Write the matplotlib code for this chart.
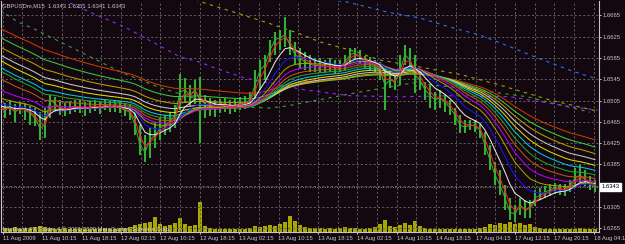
import numpy as np
import matplotlib
matplotlib.use('Agg')
import matplotlib.pyplot as plt
import matplotlib.transforms as mtransforms

# 图表文字
title_text = 'GBPUSDm,M15  1.6343 1.6351 1.6341 1.6343'
copyright_text = 'Interbank FX Trader 4 \u00a9 2001-2009 MetaQuotes Software Corp.'
last_price = 1.6343

# 每个点约4根M15柱 (读图所得)
close = [1.6491, 1.6487, 1.6493, 1.6483, 1.6491, 1.6487, 1.6482, 1.6472, 1.6453, 1.6459,
         1.6506, 1.6499, 1.6491, 1.6487, 1.6491, 1.6495, 1.6493, 1.6489, 1.6493, 1.6495,
         1.6491, 1.6497, 1.6493, 1.6495, 1.6491, 1.6487, 1.6483, 1.6459, 1.6421, 1.6408,
         1.6431, 1.6440, 1.6453, 1.6459, 1.6465, 1.6478, 1.6521, 1.6525, 1.6515, 1.6525,
         1.6506, 1.6499, 1.6495, 1.6491, 1.6495, 1.6497, 1.6493, 1.6495, 1.6499, 1.6500,
         1.6506, 1.6534, 1.6562, 1.6572, 1.6600, 1.6619, 1.6623, 1.6628, 1.6609, 1.6591,
         1.6585, 1.6577, 1.6574, 1.6570, 1.6572, 1.6568, 1.6570, 1.6566, 1.6568, 1.6577,
         1.6591, 1.6594, 1.6587, 1.6577, 1.6574, 1.6570, 1.6562, 1.6534, 1.6544, 1.6540,
         1.6562, 1.6591, 1.6581, 1.6553, 1.6544, 1.6525, 1.6515, 1.6506, 1.6510, 1.6502,
         1.6491, 1.6478, 1.6459, 1.6455, 1.6459, 1.6457, 1.6450, 1.6421, 1.6393, 1.6365,
         1.6346, 1.6322, 1.6295, 1.6292, 1.6309, 1.6299, 1.6303, 1.6322, 1.6327, 1.6333,
         1.6337, 1.6341, 1.6339, 1.6337, 1.6346, 1.6359, 1.6365, 1.6356, 1.6348, 1.6343]
high = [1.6506, 1.6500, 1.6506, 1.6499, 1.6502, 1.6500, 1.6495, 1.6491, 1.6483, 1.6491,
        1.6515, 1.6512, 1.6506, 1.6500, 1.6504, 1.6506, 1.6506, 1.6502, 1.6504, 1.6506,
        1.6502, 1.6506, 1.6504, 1.6506, 1.6504, 1.6500, 1.6497, 1.6487, 1.6459, 1.6440,
        1.6453, 1.6465, 1.6472, 1.6478, 1.6483, 1.6497, 1.6555, 1.6547, 1.6534, 1.6544,
        1.6549, 1.6515, 1.6510, 1.6506, 1.6508, 1.6510, 1.6506, 1.6508, 1.6512, 1.6514,
        1.6521, 1.6562, 1.6581, 1.6591, 1.6619, 1.6634, 1.6638, 1.6662, 1.6638, 1.6615,
        1.6604, 1.6596, 1.6591, 1.6585, 1.6585, 1.6581, 1.6585, 1.6581, 1.6581, 1.6591,
        1.6604, 1.6604, 1.6600, 1.6589, 1.6587, 1.6581, 1.6577, 1.6566, 1.6559, 1.6555,
        1.6591, 1.6609, 1.6604, 1.6591, 1.6562, 1.6540, 1.6534, 1.6521, 1.6525, 1.6515,
        1.6506, 1.6491, 1.6478, 1.6468, 1.6468, 1.6468, 1.6461, 1.6446, 1.6421, 1.6389,
        1.6374, 1.6346, 1.6322, 1.6309, 1.6322, 1.6318, 1.6318, 1.6337, 1.6341, 1.6344,
        1.6348, 1.6350, 1.6348, 1.6348, 1.6356, 1.6378, 1.6384, 1.6374, 1.6363, 1.6356]
low = [1.6453, 1.6472, 1.6478, 1.6465, 1.6480, 1.6468, 1.6459, 1.6457, 1.6431, 1.6435,
       1.6472, 1.6483, 1.6478, 1.6476, 1.6480, 1.6483, 1.6482, 1.6476, 1.6482, 1.6485,
       1.6480, 1.6487, 1.6483, 1.6483, 1.6482, 1.6476, 1.6468, 1.6440, 1.6403, 1.6389,
       1.6397, 1.6416, 1.6431, 1.6440, 1.6446, 1.6453, 1.6487, 1.6502, 1.6495, 1.6499,
       1.6425, 1.6472, 1.6476, 1.6474, 1.6482, 1.6483, 1.6480, 1.6483, 1.6487, 1.6489,
       1.6493, 1.6510, 1.6525, 1.6544, 1.6577, 1.6591, 1.6600, 1.6606, 1.6591, 1.6572,
       1.6566, 1.6562, 1.6559, 1.6559, 1.6559, 1.6557, 1.6559, 1.6555, 1.6559, 1.6562,
       1.6576, 1.6581, 1.6574, 1.6566, 1.6562, 1.6559, 1.6544, 1.6487, 1.6529, 1.6525,
       1.6534, 1.6572, 1.6562, 1.6519, 1.6525, 1.6506, 1.6491, 1.6487, 1.6491, 1.6483,
       1.6478, 1.6459, 1.6444, 1.6444, 1.6450, 1.6446, 1.6435, 1.6403, 1.6374, 1.6346,
       1.6327, 1.6299, 1.6280, 1.6277, 1.6290, 1.6284, 1.6284, 1.6307, 1.6318, 1.6322,
       1.6326, 1.6329, 1.6327, 1.6326, 1.6333, 1.6346, 1.6352, 1.6344, 1.6337, 1.6333]
volume = [30, 40, 30, 50, 30, 40, 40, 50, 60, 50,
          40, 30, 30, 40, 30, 30, 40, 30, 30, 30,
          30, 40, 30, 30, 40, 40, 50, 70, 80, 90,
          100, 150, 80, 60, 70, 90, 140, 80, 60, 70,
          300, 60, 40, 30, 30, 30, 30, 30, 30, 30,
          40, 60, 50, 60, 70, 60, 80, 100, 160, 110,
          70, 50, 40, 40, 40, 30, 40, 30, 40, 50,
          40, 40, 30, 30, 40, 50, 80, 120, 60, 50,
          70, 90, 70, 110, 60, 40, 30, 30, 30, 30,
          30, 30, 30, 30, 30, 30, 40, 50, 80, 70,
          90, 80, 100, 80, 90, 70, 80, 50, 40, 30,
          30, 30, 30, 30, 30, 30, 40, 30, 30, 30]

time_labels = ['11 Aug 2009', '11 Aug 10:15', '11 Aug 18:15', '12 Aug 02:15',
               '12 Aug 10:15', '12 Aug 18:15', '13 Aug 02:15', '13 Aug 10:15',
               '13 Aug 18:15', '14 Aug 02:15', '14 Aug 10:15', '14 Aug 18:15',
               '17 Aug 04:15', '17 Aug 12:15', '17 Aug 20:15', '18 Aug 04:15']
price_ticks = [1.6265, 1.6305, 1.6345, 1.6385, 1.6425, 1.6465,
               1.6505, 1.6545, 1.6585, 1.6625, 1.6665]

# 均线: 周期, 图左端起始值, 颜色 (慢 -> 快)
ma_periods = [250, 210, 178, 152, 130, 112, 96, 82, 68, 54, 38, 22, 8]
ma_start = [1.6641, 1.6624, 1.6606, 1.6591, 1.6581, 1.6568, 1.6562,
            1.6547, 1.6525, 1.6510, 1.6499, 1.6495, 1.6491]
ma_colors = ['#c83c00', '#3cc83c', '#b4a000', '#c8c8c8', '#dcdc00', '#00c8dc', '#28a028',
             '#c85014', '#b400ff', '#a0a000', '#1414ff', '#e6e6e6', '#ff1e1e']

# 虚线 (高周期均线), 横坐标为柱序号
green_dash_bar = [0, 14, 26, 50, 74, 98, 128, 160, 192, 216, 230, 288, 330, 368, 422, 432, 472]
green_dash_p = [1.6675, 1.6653, 1.6641, 1.6613, 1.6585, 1.6557, 1.6529, 1.6506, 1.6493,
                1.6491, 1.6495, 1.6521, 1.6538, 1.6529, 1.6512, 1.6506, 1.6483]
violet_dash_bar = [56, 72, 100, 144, 160, 172, 196, 244, 280, 320, 360, 408, 452, 478]
violet_dash_p = [1.6688, 1.6671, 1.6643, 1.6587, 1.6577, 1.6566, 1.6547, 1.6525, 1.6514,
                 1.6512, 1.6514, 1.6512, 1.6495, 1.6487]
olive_dash_bar = [156, 194, 214, 238, 256, 280, 304, 336, 370, 400, 440, 478]
olive_dash_p = [1.6694, 1.6666, 1.6651, 1.6632, 1.6615, 1.6600, 1.6581, 1.6568, 1.6553,
                1.6534, 1.6506, 1.6485]
blue_dash_bar = [264, 278, 310, 336, 360, 384, 408, 430, 456, 478]
blue_dash_p = [1.6694, 1.6690, 1.6671, 1.6660, 1.6643, 1.6628, 1.6606, 1.6585, 1.6562, 1.6545]

bars_per_point = 4
bg = '#130710'
fg = '#c8c8c8'
grid_c = '#5e5e5e'
bar_c = '#34b034'
fnt = 'Liberation Sans'
fs = 4.2


def ema(values, period, start, step):
    a = 1 - (1 - 2.0 / (period + 1)) ** step
    out = np.empty(len(values))
    v = start
    out[0] = v
    for i in range(1, len(values)):
        v = v + a * (values[i] - v)
        out[i] = v
    return out


W, H = 625, 244
fig = plt.figure(figsize=(W / 100, H / 100), dpi=100, facecolor=bg)
pos = [1 / W, (H - 232) / H, 598 / W, 231 / H]

# 成交量 (底层)
vax = fig.add_axes(pos)
vax.set_facecolor(bg)
ax = fig.add_axes(pos)
ax.patch.set_visible(False)

x = np.arange(len(close)) * bars_per_point
vax.bar(x, volume, width=bars_per_point * 0.8, color='#a8a800', linewidth=0)
vax.set_xlim(0.8, 479.2)
vax.set_ylim(0, 2310)
vax.axis('off')

ax.set_xlim(0.8, 479.2)
ax.set_ylim(1.6258, 1.6692)

# 网格
label_bars = 2.16 + 31.52 * np.arange(len(time_labels))
grid_bars = 2.16 + 15.76 * np.arange(2 * len(time_labels))
for b in grid_bars:
    ax.axvline(b, color=grid_c, lw=0.7, ls=(0, (2.2, 2.2)), zorder=0)
for p in price_ticks:
    ax.axhline(p, color=grid_c, lw=0.7, ls=(0, (2.2, 2.2)), zorder=0)

# 高周期虚线
for bx, py, c in [(green_dash_bar, green_dash_p, '#3ca03c'),
                  (violet_dash_bar, violet_dash_p, '#9628ff'),
                  (olive_dash_bar, olive_dash_p, '#a0a000'),
                  (blue_dash_bar, blue_dash_p, '#1e78ff')]:
    ax.plot(bx, py, color=c, lw=0.8, ls=(0, (3, 4)), zorder=1)

# 价格柱
ax.vlines(x, low, high, color=bar_c, lw=1.5, zorder=2)
ax.plot(x, close, color=bar_c, lw=0.7, zorder=2)

# 均线
for per, st, c in zip(ma_periods, ma_start, ma_colors):
    ax.plot(x, ema(close, per, st, bars_per_point), color=c, lw=0.75, zorder=3)

# 当前价格线
ax.axhline(last_price, color='#8c8c78', lw=0.7, ls=(0, (1, 1.5)), zorder=4)

# 坐标轴
for s in ['left', 'bottom', 'right']:
    ax.spines[s].set_color(fg)
    ax.spines[s].set_linewidth(0.8)
ax.spines['top'].set_visible(False)
ax.yaxis.tick_right()
ax.set_yticks(price_ticks)
ax.set_yticklabels(['' if abs(p - 1.6345) < 1e-6 else '%.4f' % p for p in price_ticks])
ax.set_xticks(label_bars)
ax.set_xticklabels(time_labels, ha='left')
ax.tick_params(axis='both', colors=fg, labelcolor=fg, length=1.6, width=0.7,
               labelsize=fs, pad=1.0)
for t in ax.get_xticklabels() + ax.get_yticklabels():
    t.set_fontfamily(fnt)

tr = mtransforms.blended_transform_factory(ax.transAxes, ax.transData)
ax.text(1.004, last_price, '%.4f' % last_price, transform=tr, ha='left', va='center',
        fontsize=fs, family=fnt, color='black',
        bbox=dict(boxstyle='square,pad=0.3', fc='white', ec='white'))

fig.text(2 / W, 1 - 6 / H, title_text, ha='left', va='center', fontsize=fs,
         family=fnt, color=fg)
fig.text(3 / W, 1 - 229 / H, copyright_text, ha='left', va='center', fontsize=fs,
         family=fnt, color='#d2d2d2')

fig.savefig('out.png', dpi=100, facecolor=bg)
